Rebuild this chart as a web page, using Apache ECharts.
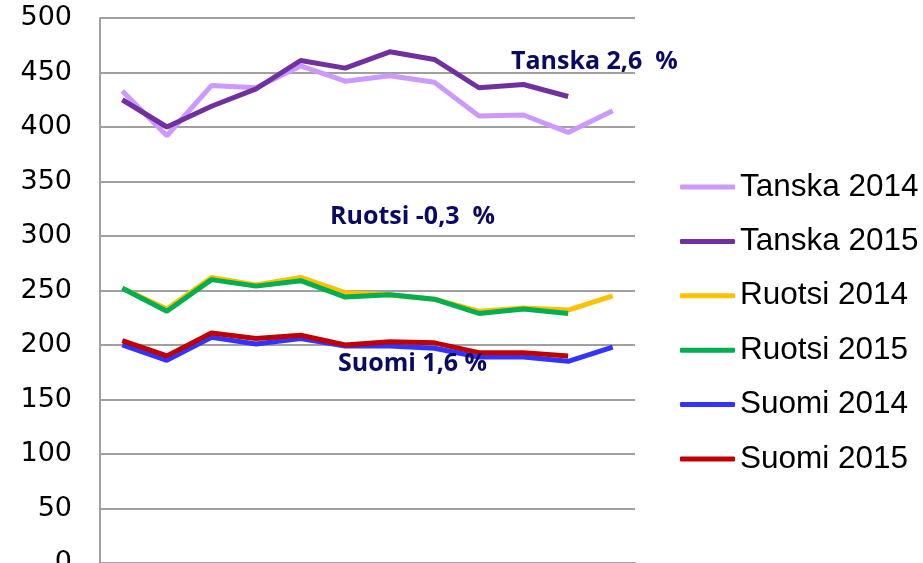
<!DOCTYPE html>
<html>
<head>
<meta charset="utf-8">
<script src="https://cdn.jsdelivr.net/npm/echarts@6/dist/echarts.min.js"></script>
<style>
  html, body { margin: 0; padding: 0; background: #fff; }
  #chart { width: 923px; height: 563px; }
</style>
</head>
<body>
<div id="chart"></div>
<script>
// kuukaudet (x-akselilla ei nimiä)
const months = ['1', '2', '3', '4', '5', '6', '7', '8', '9', '10', '11', '12'];

const tanska2014 = [433, 392, 438, 436, 456, 442, 447, 441, 410, 411, 395, 415];
const tanska2015 = [425, 400, 419, 435, 461, 454, 469, 462, 436, 439, 428];
const ruotsi2014 = [252, 233, 262, 255, 262, 248, 246, 242, 231, 234, 232, 245];
const ruotsi2015 = [252, 231, 260, 254, 259, 244, 246, 242, 229, 233, 229];
const suomi2014 = [200, 186, 207, 201, 206, 199, 199, 197, 189, 189, 185, 198];
const suomi2015 = [204, 190, 211, 206, 209, 200, 203, 202, 193, 193, 190];

const names = ['Tanska 2014', 'Tanska 2015', 'Ruotsi 2014', 'Ruotsi 2015', 'Suomi 2014', 'Suomi 2015'];
const colors = ['#CC99FF', '#7030A0', '#FFC000', '#00B050', '#3333FF', '#C00000'];
const values = [tanska2014, tanska2015, ruotsi2014, ruotsi2015, suomi2014, suomi2015];

const notes = [
  {text: 'Tanska 2,6  %', x: 511, y: 61},
  {text: 'Ruotsi -0,3  %', x: 330, y: 216},
  {text: 'Suomi 1,6 %', x: 338, y: 363}
];

const chart = echarts.init(document.getElementById('chart'));

const option = {
  backgroundColor: '#ffffff',
  animation: false,
  grid: {left: 100, right: 288, top: 18, bottom: 0, outerBoundsMode: 'none', containLabel: false},
  legend: {
    orient: 'vertical',
    left: 675,
    top: 166,
    itemWidth: 55,
    itemHeight: 5,
    itemGap: 22.4,
    icon: 'roundRect',
    textStyle: {
      fontFamily: 'Liberation Sans, Arial, sans-serif',
      fontSize: 31.5,
      lineHeight: 32,
      color: '#000'
    },
    data: names
  },
  xAxis: {
    type: 'category',
    data: months,
    boundaryGap: true,
    axisLine: {show: true, lineStyle: {color: '#a0a0a0', width: 2}},
    axisTick: {show: false},
    axisLabel: {show: false}
  },
  yAxis: {
    type: 'value',
    min: 0,
    max: 500,
    interval: 50,
    axisLine: {show: true, lineStyle: {color: '#a0a0a0', width: 2}},
    axisTick: {show: false},
    axisLabel: {
      margin: 28,
      fontFamily: 'DejaVu Sans, sans-serif',
      fontSize: 27,
      color: '#000'
    },
    splitLine: {lineStyle: {color: '#a0a0a0', width: 2}}
  },
  graphic: notes.map(n => ({
    type: 'text',
    left: n.x,
    top: n.y - 12,
    style: {
      text: n.text,
      fontFamily: 'Open Sans, sans-serif',
      fontWeight: 'bold',
      fontSize: 25,
      fill: '#0a0a62'
    },
    z: 100
  })),
  series: names.map((name, i) => ({
    name: name,
    type: 'line',
    data: values[i],
    showSymbol: false,
    symbol: 'none',
    lineStyle: {color: colors[i], width: 5},
    itemStyle: {color: colors[i]}
  }))
};

chart.setOption(option);
</script>
</body>
</html>
